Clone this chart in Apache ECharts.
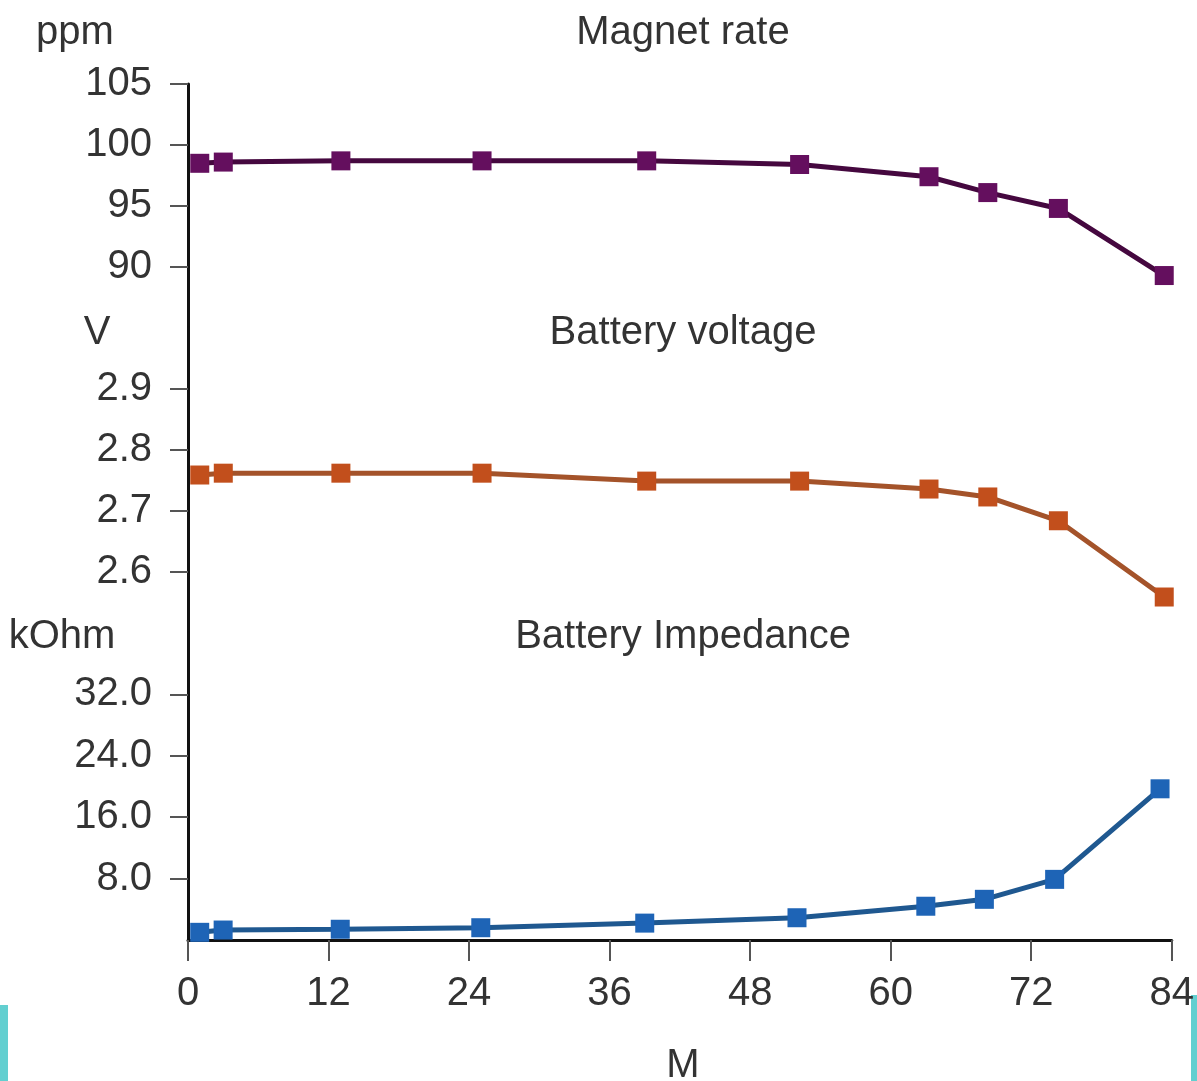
<!DOCTYPE html>
<html>
<head>
<meta charset="utf-8">
<script src="https://cdn.jsdelivr.net/npm/echarts@6/dist/echarts.min.js"></script>
<style>
  html, body { margin: 0; padding: 0; background: #fff; }
  #chart { width: 1197px; height: 1081px; }
</style>
</head>
<body>
<div id="chart"></div>
<script>
// months of each measurement
var months = [1, 3, 13, 25, 39, 52, 63, 68, 74, 83]
var magnetRate = [98.5, 98.6, 98.7, 98.7, 98.7, 98.4, 97.4, 96.1, 94.8, 89.3]
var batteryVoltage = [2.759, 2.762, 2.762, 2.762, 2.749, 2.749, 2.736, 2.723, 2.684, 2.559]
var batteryImpedance = [1.0, 1.3, 1.4, 1.6, 2.2, 2.9, 4.4, 5.3, 7.9, 19.7]

var xTicks = [0, 12, 24, 36, 48, 60, 72, 84]
var ppmTicks = [90, 95, 100, 105]
var voltTicks = [2.6, 2.7, 2.8, 2.9]
var kohmTicks = [8, 16, 24, 32]

var font = 'Liberation Sans, Arial, sans-serif'
var textColor = '#333'

function pairs (ys) {
  return months.map(function (m, i) { return [m, ys[i]] })
}

function xAxisFor (idx, visible) {
  return {
    type: 'value',
    gridIndex: idx,
    min: 0,
    max: 84,
    interval: 12,
    show: visible,
    splitLine: { show: false },
    axisLine: { show: true, onZero: false, lineStyle: { color: '#111', width: 3 } },
    axisTick: { show: true, length: 21, customValues: xTicks, lineStyle: { color: '#555', width: 2 } },
    axisLabel: { customValues: xTicks, margin: 34, fontSize: 40, fontFamily: font, color: textColor }
  }
}

function yAxisFor (idx, min, max, ticks, fmt) {
  return {
    type: 'value',
    gridIndex: idx,
    min: min,
    max: max,
    splitLine: { show: false },
    axisLine: { show: true, lineStyle: { color: '#111', width: 3 } },
    axisTick: { show: true, length: 18, customValues: ticks, lineStyle: { color: '#555', width: 2 } },
    axisLabel: {
      customValues: ticks,
      margin: 36,
      fontSize: 40,
      fontFamily: font,
      color: textColor,
      formatter: fmt
    }
  }
}

function lineSeries (idx, data, lineColor, markColor) {
  return {
    type: 'line',
    xAxisIndex: idx,
    yAxisIndex: idx,
    data: pairs(data),
    symbol: 'rect',
    symbolSize: 19,
    lineStyle: { color: lineColor, width: 5 },
    itemStyle: { color: markColor },
    z: 3
  }
}

function label (text, x, y) {
  return {
    type: 'text',
    x: x,
    y: y,
    style: {
      text: text,
      fontSize: 40,
      fontFamily: font,
      fill: textColor,
      align: 'center',
      verticalAlign: 'middle'
    }
  }
}

var chart = echarts.init(document.getElementById('chart'))
chart.setOption({
  animation: false,
  backgroundColor: '#fff',
  grid: [
    { left: 188, width: 988, top: 84, height: 244 },
    { left: 188, width: 988, top: 328, height: 305 },
    { left: 188, width: 988, top: 633, height: 307 }
  ],
  xAxis: [xAxisFor(0, false), xAxisFor(1, false), xAxisFor(2, true)],
  yAxis: [
    yAxisFor(0, 85, 105, ppmTicks, function (v) { return String(v) }),
    yAxisFor(1, 2.5, 3.0, voltTicks, function (v) { return v.toFixed(1) }),
    yAxisFor(2, 0, 40, kohmTicks, function (v) { return v.toFixed(1) })
  ],
  series: [
    lineSeries(0, magnetRate, '#45083f', '#640f5e'),
    lineSeries(1, batteryVoltage, '#a4532a', '#c24f1c'),
    lineSeries(2, batteryImpedance, '#1f5890', '#1e64b6')
  ],
  graphic: [
    label('ppm', 75, 33),
    label('Magnet rate', 683, 33),
    label('V', 97, 333),
    label('Battery voltage', 683, 333),
    label('kOhm', 62, 637),
    label('Battery Impedance', 683, 637),
    label('M', 683, 1066),
    { type: 'rect', shape: { x: 0, y: 1005, width: 8, height: 76 }, style: { fill: '#62cfd0' } },
    { type: 'rect', shape: { x: 1191, y: 995, width: 6, height: 86 }, style: { fill: '#62cfd0' } }
  ]
})
</script>
</body>
</html>
